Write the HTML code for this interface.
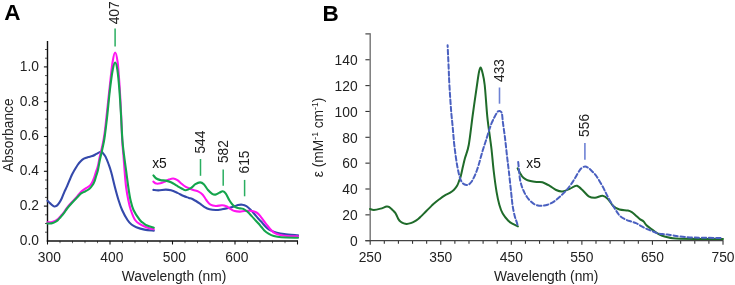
<!DOCTYPE html>
<html><head><meta charset="utf-8"><style>
html,body{margin:0;padding:0;background:#fff;}
body{width:735px;height:285px;overflow:hidden;}
svg{display:block;filter:blur(0.3px);font-family:"Liberation Sans", sans-serif;}
</style></head><body>
<svg width="735" height="285" viewBox="0 0 735 285">
<rect width="735" height="285" fill="#fff"/>
<text x="4.2" y="20.4" font-size="22.5" font-weight="bold" fill="#000">A</text>
<text x="322.5" y="20.8" font-size="22.5" font-weight="bold" fill="#000">B</text>
<line x1="45.00" x2="47.5" y1="232.20" y2="232.20" stroke="#555" stroke-width="1"/>
<line x1="45.00" x2="47.5" y1="223.50" y2="223.50" stroke="#555" stroke-width="1"/>
<line x1="45.00" x2="47.5" y1="214.80" y2="214.80" stroke="#555" stroke-width="1"/>
<line x1="43.90" x2="47.5" y1="206.10" y2="206.10" stroke="#111" stroke-width="1.1"/>
<line x1="45.00" x2="47.5" y1="197.40" y2="197.40" stroke="#555" stroke-width="1"/>
<line x1="45.00" x2="47.5" y1="188.70" y2="188.70" stroke="#555" stroke-width="1"/>
<line x1="45.00" x2="47.5" y1="180.00" y2="180.00" stroke="#555" stroke-width="1"/>
<line x1="43.90" x2="47.5" y1="171.30" y2="171.30" stroke="#111" stroke-width="1.1"/>
<line x1="45.00" x2="47.5" y1="162.60" y2="162.60" stroke="#555" stroke-width="1"/>
<line x1="45.00" x2="47.5" y1="153.90" y2="153.90" stroke="#555" stroke-width="1"/>
<line x1="45.00" x2="47.5" y1="145.20" y2="145.20" stroke="#555" stroke-width="1"/>
<line x1="43.90" x2="47.5" y1="136.50" y2="136.50" stroke="#111" stroke-width="1.1"/>
<line x1="45.00" x2="47.5" y1="127.80" y2="127.80" stroke="#555" stroke-width="1"/>
<line x1="45.00" x2="47.5" y1="119.10" y2="119.10" stroke="#555" stroke-width="1"/>
<line x1="45.00" x2="47.5" y1="110.40" y2="110.40" stroke="#555" stroke-width="1"/>
<line x1="43.90" x2="47.5" y1="101.70" y2="101.70" stroke="#111" stroke-width="1.1"/>
<line x1="45.00" x2="47.5" y1="93.00" y2="93.00" stroke="#555" stroke-width="1"/>
<line x1="45.00" x2="47.5" y1="84.30" y2="84.30" stroke="#555" stroke-width="1"/>
<line x1="45.00" x2="47.5" y1="75.60" y2="75.60" stroke="#555" stroke-width="1"/>
<line x1="43.90" x2="47.5" y1="66.90" y2="66.90" stroke="#111" stroke-width="1.1"/>
<line x1="45.00" x2="47.5" y1="58.20" y2="58.20" stroke="#555" stroke-width="1"/>
<line x1="45.00" x2="47.5" y1="49.50" y2="49.50" stroke="#555" stroke-width="1"/>
<line x1="47.50" x2="47.50" y1="240.9" y2="244.50" stroke="#111" stroke-width="1.1"/>
<line x1="60.00" x2="60.00" y1="240.9" y2="243.20" stroke="#555" stroke-width="0.9"/>
<line x1="72.50" x2="72.50" y1="240.9" y2="243.20" stroke="#555" stroke-width="0.9"/>
<line x1="85.00" x2="85.00" y1="240.9" y2="243.20" stroke="#555" stroke-width="0.9"/>
<line x1="97.50" x2="97.50" y1="240.9" y2="243.20" stroke="#555" stroke-width="0.9"/>
<line x1="110.00" x2="110.00" y1="240.9" y2="244.50" stroke="#111" stroke-width="1.1"/>
<line x1="122.50" x2="122.50" y1="240.9" y2="243.20" stroke="#555" stroke-width="0.9"/>
<line x1="135.00" x2="135.00" y1="240.9" y2="243.20" stroke="#555" stroke-width="0.9"/>
<line x1="147.50" x2="147.50" y1="240.9" y2="243.20" stroke="#555" stroke-width="0.9"/>
<line x1="160.00" x2="160.00" y1="240.9" y2="243.20" stroke="#555" stroke-width="0.9"/>
<line x1="172.50" x2="172.50" y1="240.9" y2="244.50" stroke="#111" stroke-width="1.1"/>
<line x1="185.00" x2="185.00" y1="240.9" y2="243.20" stroke="#555" stroke-width="0.9"/>
<line x1="197.50" x2="197.50" y1="240.9" y2="243.20" stroke="#555" stroke-width="0.9"/>
<line x1="210.00" x2="210.00" y1="240.9" y2="243.20" stroke="#555" stroke-width="0.9"/>
<line x1="222.50" x2="222.50" y1="240.9" y2="243.20" stroke="#555" stroke-width="0.9"/>
<line x1="235.00" x2="235.00" y1="240.9" y2="244.50" stroke="#111" stroke-width="1.1"/>
<line x1="247.50" x2="247.50" y1="240.9" y2="243.20" stroke="#555" stroke-width="0.9"/>
<line x1="260.00" x2="260.00" y1="240.9" y2="243.20" stroke="#555" stroke-width="0.9"/>
<line x1="272.50" x2="272.50" y1="240.9" y2="243.20" stroke="#555" stroke-width="0.9"/>
<line x1="285.00" x2="285.00" y1="240.9" y2="243.20" stroke="#555" stroke-width="0.9"/>
<line x1="297.50" x2="297.50" y1="240.9" y2="244.50" stroke="#111" stroke-width="1.1"/>
<line x1="47.5" x2="47.5" y1="41" y2="241.6" stroke="#111" stroke-width="1.4"/>
<line x1="46.8" x2="298" y1="240.9" y2="240.9" stroke="#111" stroke-width="1.5"/>
<text x="39" y="244.80" text-anchor="end" font-size="13.8" fill="#222">0.0</text>
<text x="39" y="210.00" text-anchor="end" font-size="13.8" fill="#222">0.2</text>
<text x="39" y="175.20" text-anchor="end" font-size="13.8" fill="#222">0.4</text>
<text x="39" y="140.40" text-anchor="end" font-size="13.8" fill="#222">0.6</text>
<text x="39" y="105.60" text-anchor="end" font-size="13.8" fill="#222">0.8</text>
<text x="39" y="70.80" text-anchor="end" font-size="13.8" fill="#222">1.0</text>
<text x="49.30" y="261.5" text-anchor="middle" font-size="13.8" fill="#222">300</text>
<text x="111.80" y="261.5" text-anchor="middle" font-size="13.8" fill="#222">400</text>
<text x="174.30" y="261.5" text-anchor="middle" font-size="13.8" fill="#222">500</text>
<text x="236.80" y="261.5" text-anchor="middle" font-size="13.8" fill="#222">600</text>
<text x="174" y="281" text-anchor="middle" font-size="13.8" fill="#222">Wavelength (nm)</text>
<text transform="translate(12.6,135.2) rotate(-90)" text-anchor="middle" font-size="13.8" fill="#222">Absorbance</text>
<path d="M47.50,200.80 C47.95,201.23 49.13,202.47 50.20,203.40 C51.27,204.33 52.85,205.98 53.90,206.40 C54.95,206.82 55.62,206.48 56.50,205.90 C57.38,205.32 58.32,204.18 59.20,202.90 C60.08,201.62 60.93,200.05 61.80,198.20 C62.67,196.35 63.52,193.82 64.40,191.80 C65.28,189.78 65.87,188.90 67.10,186.10 C68.33,183.30 70.58,177.63 71.80,175.00 C73.02,172.37 73.43,171.97 74.40,170.30 C75.37,168.63 76.55,166.50 77.60,165.00 C78.65,163.50 79.65,162.35 80.70,161.30 C81.75,160.25 82.67,159.40 83.90,158.70 C85.13,158.00 86.70,157.53 88.10,157.10 C89.50,156.67 90.90,156.63 92.30,156.10 C93.70,155.57 95.10,154.62 96.50,153.90 C97.90,153.18 99.65,151.97 100.70,151.80 C101.75,151.63 102.00,152.10 102.80,152.90 C103.60,153.70 104.48,154.58 105.50,156.60 C106.52,158.62 107.93,162.35 108.90,165.00 C109.87,167.65 110.28,168.75 111.30,172.50 C112.32,176.25 113.80,182.92 115.00,187.50 C116.20,192.08 117.32,196.25 118.50,200.00 C119.68,203.75 120.60,206.67 122.10,210.00 C123.60,213.33 125.93,217.58 127.50,220.00 C129.07,222.42 130.03,223.30 131.50,224.50 C132.97,225.70 134.13,226.35 136.30,227.20 C138.47,228.05 141.58,229.02 144.50,229.60 C147.42,230.18 152.25,230.52 153.80,230.70" fill="none" stroke="#3449ab" stroke-width="2.10" stroke-linejoin="round" stroke-linecap="round" />
<path d="M47.50,222.20 C48.13,222.20 50.15,222.35 51.30,222.20 C52.45,222.05 53.35,221.77 54.40,221.30 C55.45,220.83 56.55,220.27 57.60,219.40 C58.65,218.53 59.65,217.27 60.70,216.10 C61.75,214.93 62.83,213.82 63.90,212.40 C64.97,210.98 65.70,209.38 67.10,207.60 C68.50,205.82 70.55,203.63 72.30,201.70 C74.05,199.77 76.13,197.65 77.60,196.00 C79.07,194.35 79.82,193.02 81.10,191.80 C82.38,190.58 83.90,189.65 85.30,188.70 C86.70,187.75 88.37,187.15 89.50,186.10 C90.63,185.05 91.32,183.82 92.10,182.40 C92.88,180.98 93.58,179.27 94.20,177.60 C94.82,175.93 95.18,174.33 95.80,172.40 C96.42,170.47 97.25,168.57 97.90,166.00 C98.55,163.43 98.97,160.33 99.70,157.00 C100.43,153.67 101.50,149.83 102.30,146.00 C103.10,142.17 103.72,139.67 104.50,134.00 C105.28,128.33 106.10,120.17 107.00,112.00 C107.90,103.83 108.97,93.33 109.90,85.00 C110.83,76.67 111.73,67.42 112.60,62.00 C113.47,56.58 114.27,52.50 115.10,52.50 C115.93,52.50 116.87,56.58 117.60,62.00 C118.33,67.42 118.93,76.67 119.50,85.00 C120.07,93.33 120.55,102.83 121.00,112.00 C121.45,121.17 121.80,132.83 122.20,140.00 C122.60,147.17 122.98,149.67 123.40,155.00 C123.82,160.33 124.25,166.67 124.70,172.00 C125.15,177.33 125.50,182.33 126.10,187.00 C126.70,191.67 127.52,196.17 128.30,200.00 C129.08,203.83 129.67,206.67 130.80,210.00 C131.93,213.33 133.43,217.55 135.10,220.00 C136.77,222.45 138.82,223.45 140.80,224.70 C142.78,225.95 144.83,226.73 147.00,227.50 C149.17,228.27 152.67,229.00 153.80,229.30" fill="none" stroke="#ff14f0" stroke-width="2.10" stroke-linejoin="round" stroke-linecap="round" />
<path d="M47.50,223.40 C48.13,223.40 50.15,223.57 51.30,223.40 C52.45,223.23 53.35,222.90 54.40,222.40 C55.45,221.90 56.55,221.30 57.60,220.40 C58.65,219.50 59.65,218.20 60.70,217.00 C61.75,215.80 62.83,214.62 63.90,213.20 C64.97,211.78 65.70,210.28 67.10,208.50 C68.50,206.72 70.55,204.42 72.30,202.50 C74.05,200.58 76.13,198.52 77.60,197.00 C79.07,195.48 79.82,194.35 81.10,193.40 C82.38,192.45 83.90,192.08 85.30,191.30 C86.70,190.52 88.28,189.75 89.50,188.70 C90.72,187.65 91.73,186.32 92.60,185.00 C93.47,183.68 94.08,182.38 94.70,180.80 C95.32,179.22 95.77,177.25 96.30,175.50 C96.83,173.75 97.33,172.75 97.90,170.30 C98.47,167.85 98.97,164.32 99.70,160.80 C100.43,157.28 101.50,153.00 102.30,149.20 C103.10,145.40 103.72,143.20 104.50,138.00 C105.28,132.80 106.10,126.00 107.00,118.00 C107.90,110.00 108.95,98.00 109.90,90.00 C110.85,82.00 111.83,74.58 112.70,70.00 C113.57,65.42 114.32,62.50 115.10,62.50 C115.88,62.50 116.68,65.42 117.40,70.00 C118.12,74.58 118.80,82.50 119.40,90.00 C120.00,97.50 120.50,106.67 121.00,115.00 C121.50,123.33 121.90,133.33 122.40,140.00 C122.90,146.67 123.35,149.67 124.00,155.00 C124.65,160.33 125.58,166.67 126.30,172.00 C127.02,177.33 127.60,182.33 128.30,187.00 C129.00,191.67 129.63,196.17 130.50,200.00 C131.37,203.83 131.95,206.67 133.50,210.00 C135.05,213.33 138.05,217.73 139.80,220.00 C141.55,222.27 142.77,222.68 144.00,223.60 C145.23,224.52 145.57,224.82 147.20,225.50 C148.83,226.18 152.70,227.33 153.80,227.70" fill="none" stroke="#14a54c" stroke-width="2.10" stroke-linejoin="round" stroke-linecap="round" />
<path d="M153.40,189.90 C154.23,189.98 156.33,190.45 158.40,190.40 C160.47,190.35 163.70,189.62 165.80,189.60 C167.90,189.58 169.07,189.75 171.00,190.30 C172.93,190.85 175.28,191.95 177.40,192.90 C179.52,193.85 181.78,195.17 183.70,196.00 C185.62,196.83 187.30,197.32 188.90,197.90 C190.50,198.48 191.45,198.53 193.30,199.50 C195.15,200.47 198.18,202.48 200.00,203.70 C201.82,204.92 202.62,205.87 204.20,206.80 C205.78,207.73 207.57,208.77 209.50,209.30 C211.43,209.83 213.70,210.00 215.80,210.00 C217.90,210.00 220.00,209.62 222.10,209.30 C224.20,208.98 226.30,208.60 228.40,208.10 C230.50,207.60 233.10,206.82 234.70,206.30 C236.30,205.78 236.75,205.27 238.00,205.00 C239.25,204.73 240.80,204.52 242.20,204.70 C243.60,204.88 245.00,205.27 246.40,206.10 C247.80,206.93 249.20,208.30 250.60,209.70 C252.00,211.10 253.57,213.07 254.80,214.50 C256.03,215.93 256.93,217.13 258.00,218.30 C259.07,219.47 260.15,220.35 261.20,221.50 C262.25,222.65 263.25,224.07 264.30,225.20 C265.35,226.33 266.27,227.35 267.50,228.30 C268.73,229.25 270.13,230.15 271.70,230.90 C273.27,231.65 274.80,232.27 276.90,232.80 C279.00,233.33 280.78,233.67 284.30,234.10 C287.82,234.53 295.72,235.18 298.00,235.40" fill="none" stroke="#3449ab" stroke-width="2.10" stroke-linejoin="round" stroke-linecap="round" />
<path d="M153.40,181.70 C153.88,182.02 155.12,183.33 156.30,183.60 C157.48,183.87 159.10,183.62 160.50,183.30 C161.90,182.98 163.30,182.32 164.70,181.70 C166.10,181.08 167.48,180.13 168.90,179.60 C170.32,179.07 171.78,178.42 173.20,178.50 C174.62,178.58 176.00,179.22 177.40,180.10 C178.80,180.98 180.20,182.67 181.60,183.80 C183.00,184.93 184.48,186.12 185.80,186.90 C187.12,187.68 188.25,187.98 189.50,188.50 C190.75,189.02 191.80,189.48 193.30,190.00 C194.80,190.52 196.93,190.82 198.50,191.60 C200.07,192.38 201.40,193.30 202.70,194.70 C204.00,196.10 205.00,198.33 206.30,200.00 C207.60,201.67 208.92,203.70 210.50,204.70 C212.08,205.70 213.87,205.90 215.80,206.00 C217.73,206.10 220.35,205.25 222.10,205.30 C223.85,205.35 224.90,205.70 226.30,206.30 C227.70,206.90 229.10,208.10 230.50,208.90 C231.90,209.70 233.12,210.65 234.70,211.10 C236.28,211.55 238.40,211.62 240.00,211.60 C241.60,211.58 242.70,211.13 244.30,211.00 C245.90,210.87 247.85,210.67 249.60,210.80 C251.35,210.93 253.40,211.33 254.80,211.80 C256.20,212.27 256.93,212.68 258.00,213.60 C259.07,214.52 260.15,215.98 261.20,217.30 C262.25,218.62 263.25,220.10 264.30,221.50 C265.35,222.90 266.45,224.38 267.50,225.70 C268.55,227.02 269.38,228.17 270.60,229.40 C271.82,230.63 273.03,232.13 274.80,233.10 C276.57,234.07 278.73,234.68 281.20,235.20 C283.67,235.72 286.80,236.00 289.60,236.20 C292.40,236.40 296.60,236.37 298.00,236.40" fill="none" stroke="#ff14f0" stroke-width="2.10" stroke-linejoin="round" stroke-linecap="round" />
<path d="M153.40,175.40 C153.88,175.92 155.12,177.72 156.30,178.50 C157.48,179.28 158.92,179.75 160.50,180.10 C162.08,180.45 164.05,180.25 165.80,180.60 C167.55,180.95 169.25,181.40 171.00,182.20 C172.75,183.00 174.53,184.35 176.30,185.40 C178.07,186.45 180.02,187.68 181.60,188.50 C183.18,189.32 184.20,190.40 185.80,190.30 C187.40,190.20 189.60,188.92 191.20,187.90 C192.80,186.88 193.92,185.12 195.40,184.20 C196.88,183.28 198.70,182.40 200.10,182.40 C201.50,182.40 202.48,182.93 203.80,184.20 C205.12,185.47 206.60,188.40 208.00,190.00 C209.40,191.60 210.97,193.03 212.20,193.80 C213.43,194.57 214.17,194.80 215.40,194.60 C216.63,194.40 218.38,193.15 219.60,192.60 C220.82,192.05 221.67,191.13 222.70,191.30 C223.73,191.47 224.67,192.07 225.80,193.60 C226.93,195.13 228.37,198.65 229.50,200.50 C230.63,202.35 231.55,203.55 232.60,204.70 C233.65,205.85 234.57,206.78 235.80,207.40 C237.03,208.02 238.75,208.15 240.00,208.40 C241.25,208.65 242.05,208.33 243.30,208.90 C244.55,209.47 246.10,210.60 247.50,211.80 C248.90,213.00 250.30,214.60 251.70,216.10 C253.10,217.60 254.77,219.57 255.90,220.80 C257.03,222.03 257.62,222.52 258.50,223.50 C259.38,224.48 260.23,225.55 261.20,226.70 C262.17,227.85 263.08,229.25 264.30,230.40 C265.52,231.55 266.92,232.67 268.50,233.60 C270.08,234.53 271.68,235.38 273.80,236.00 C275.92,236.62 277.17,237.00 281.20,237.30 C285.23,237.60 295.20,237.72 298.00,237.80" fill="none" stroke="#14a54c" stroke-width="2.10" stroke-linejoin="round" stroke-linecap="round" />
<line x1="115.10" x2="115.10" y1="28.50" y2="46.40" stroke="#2aae60" stroke-width="1.5"/>
<line x1="200.50" x2="200.50" y1="159.00" y2="175.80" stroke="#2aae60" stroke-width="1.5"/>
<line x1="223.20" x2="223.20" y1="169.40" y2="185.80" stroke="#2aae60" stroke-width="1.5"/>
<line x1="244.60" x2="244.60" y1="179.90" y2="196.30" stroke="#2aae60" stroke-width="1.5"/>
<text transform="translate(119.30,12.80) rotate(-90)" text-anchor="middle" font-size="13.8" fill="#222">407</text>
<text transform="translate(205.40,142.10) rotate(-90)" text-anchor="middle" font-size="13.8" fill="#222">544</text>
<text transform="translate(228.20,151.60) rotate(-90)" text-anchor="middle" font-size="13.8" fill="#222">582</text>
<text transform="translate(249.10,162.00) rotate(-90)" text-anchor="middle" font-size="13.8" fill="#222">615</text>
<text x="152.2" y="167.9" font-size="13.8" fill="#111">x5</text>
<line x1="365.4" x2="370.2" y1="240.70" y2="240.70" stroke="#333" stroke-width="1.1"/>
<line x1="365.4" x2="370.2" y1="214.85" y2="214.85" stroke="#333" stroke-width="1.1"/>
<line x1="365.4" x2="370.2" y1="189.00" y2="189.00" stroke="#333" stroke-width="1.1"/>
<line x1="365.4" x2="370.2" y1="163.15" y2="163.15" stroke="#333" stroke-width="1.1"/>
<line x1="365.4" x2="370.2" y1="137.30" y2="137.30" stroke="#333" stroke-width="1.1"/>
<line x1="365.4" x2="370.2" y1="111.45" y2="111.45" stroke="#333" stroke-width="1.1"/>
<line x1="365.4" x2="370.2" y1="85.60" y2="85.60" stroke="#333" stroke-width="1.1"/>
<line x1="365.4" x2="370.2" y1="59.75" y2="59.75" stroke="#333" stroke-width="1.1"/>
<line x1="365.4" x2="370.2" y1="33.90" y2="33.90" stroke="#333" stroke-width="1.1"/>
<line x1="370.20" x2="370.20" y1="240.6" y2="244.70" stroke="#333" stroke-width="1.1"/>
<line x1="384.31" x2="384.31" y1="240.6" y2="243.80" stroke="#333" stroke-width="1.1"/>
<line x1="398.42" x2="398.42" y1="240.6" y2="243.80" stroke="#333" stroke-width="1.1"/>
<line x1="412.54" x2="412.54" y1="240.6" y2="243.80" stroke="#333" stroke-width="1.1"/>
<line x1="426.65" x2="426.65" y1="240.6" y2="243.80" stroke="#333" stroke-width="1.1"/>
<line x1="440.76" x2="440.76" y1="240.6" y2="244.70" stroke="#333" stroke-width="1.1"/>
<line x1="454.87" x2="454.87" y1="240.6" y2="243.80" stroke="#333" stroke-width="1.1"/>
<line x1="468.98" x2="468.98" y1="240.6" y2="243.80" stroke="#333" stroke-width="1.1"/>
<line x1="483.10" x2="483.10" y1="240.6" y2="243.80" stroke="#333" stroke-width="1.1"/>
<line x1="497.21" x2="497.21" y1="240.6" y2="243.80" stroke="#333" stroke-width="1.1"/>
<line x1="511.32" x2="511.32" y1="240.6" y2="244.70" stroke="#333" stroke-width="1.1"/>
<line x1="525.43" x2="525.43" y1="240.6" y2="243.80" stroke="#333" stroke-width="1.1"/>
<line x1="539.54" x2="539.54" y1="240.6" y2="243.80" stroke="#333" stroke-width="1.1"/>
<line x1="553.66" x2="553.66" y1="240.6" y2="243.80" stroke="#333" stroke-width="1.1"/>
<line x1="567.77" x2="567.77" y1="240.6" y2="243.80" stroke="#333" stroke-width="1.1"/>
<line x1="581.88" x2="581.88" y1="240.6" y2="244.70" stroke="#333" stroke-width="1.1"/>
<line x1="595.99" x2="595.99" y1="240.6" y2="243.80" stroke="#333" stroke-width="1.1"/>
<line x1="610.10" x2="610.10" y1="240.6" y2="243.80" stroke="#333" stroke-width="1.1"/>
<line x1="624.22" x2="624.22" y1="240.6" y2="243.80" stroke="#333" stroke-width="1.1"/>
<line x1="638.33" x2="638.33" y1="240.6" y2="243.80" stroke="#333" stroke-width="1.1"/>
<line x1="652.44" x2="652.44" y1="240.6" y2="244.70" stroke="#333" stroke-width="1.1"/>
<line x1="666.55" x2="666.55" y1="240.6" y2="243.80" stroke="#333" stroke-width="1.1"/>
<line x1="680.66" x2="680.66" y1="240.6" y2="243.80" stroke="#333" stroke-width="1.1"/>
<line x1="694.78" x2="694.78" y1="240.6" y2="243.80" stroke="#333" stroke-width="1.1"/>
<line x1="708.89" x2="708.89" y1="240.6" y2="243.80" stroke="#333" stroke-width="1.1"/>
<line x1="723.00" x2="723.00" y1="240.6" y2="244.70" stroke="#333" stroke-width="1.1"/>
<line x1="370.2" x2="370.2" y1="33.3" y2="241" stroke="#7c7c7c" stroke-width="1.5"/>
<line x1="365.4" x2="723.4" y1="240.6" y2="240.6" stroke="#444" stroke-width="1.1"/>
<text x="357.6" y="245.90" text-anchor="end" font-size="13.8" fill="#222">0</text>
<text x="357.6" y="220.05" text-anchor="end" font-size="13.8" fill="#222">20</text>
<text x="357.6" y="194.20" text-anchor="end" font-size="13.8" fill="#222">40</text>
<text x="357.6" y="168.35" text-anchor="end" font-size="13.8" fill="#222">60</text>
<text x="357.6" y="142.50" text-anchor="end" font-size="13.8" fill="#222">80</text>
<text x="357.6" y="116.65" text-anchor="end" font-size="13.8" fill="#222">100</text>
<text x="357.6" y="90.80" text-anchor="end" font-size="13.8" fill="#222">120</text>
<text x="357.6" y="64.95" text-anchor="end" font-size="13.8" fill="#222">140</text>
<text x="370.20" y="261.5" text-anchor="middle" font-size="13.8" fill="#222">250</text>
<text x="440.76" y="261.5" text-anchor="middle" font-size="13.8" fill="#222">350</text>
<text x="511.32" y="261.5" text-anchor="middle" font-size="13.8" fill="#222">450</text>
<text x="581.88" y="261.5" text-anchor="middle" font-size="13.8" fill="#222">550</text>
<text x="652.44" y="261.5" text-anchor="middle" font-size="13.8" fill="#222">650</text>
<text x="723.00" y="261.5" text-anchor="middle" font-size="13.8" fill="#222">750</text>
<text x="546.2" y="281" text-anchor="middle" font-size="13.8" fill="#222">Wavelength (nm)</text>
<text transform="translate(323,137.5) rotate(-90)" text-anchor="middle" font-size="13.8" fill="#222">ε (mM<tspan font-size="8.5" dy="-5">-1</tspan><tspan dy="5"> cm</tspan><tspan font-size="8.5" dy="-5">-1</tspan><tspan dy="5">)</tspan></text>
<path d="M370.00,209.00 C370.65,209.15 372.13,209.97 373.90,209.90 C375.67,209.83 378.47,209.15 380.60,208.60 C382.73,208.05 385.20,206.82 386.70,206.60 C388.20,206.38 388.55,206.67 389.60,207.30 C390.65,207.93 392.05,209.47 393.00,210.40 C393.95,211.33 394.65,211.97 395.30,212.90 C395.95,213.83 396.38,214.97 396.90,216.00 C397.42,217.03 397.77,218.13 398.40,219.10 C399.03,220.07 399.80,221.08 400.70,221.80 C401.60,222.52 402.77,223.05 403.80,223.40 C404.83,223.75 405.75,223.95 406.90,223.90 C408.05,223.85 409.42,223.52 410.70,223.10 C411.98,222.68 413.30,222.13 414.60,221.40 C415.90,220.67 417.43,219.53 418.50,218.70 C419.57,217.87 419.73,217.65 421.00,216.40 C422.27,215.15 424.32,213.00 426.10,211.20 C427.88,209.40 430.38,206.88 431.70,205.60 C433.02,204.32 432.73,204.55 434.00,203.50 C435.27,202.45 437.55,200.62 439.30,199.30 C441.05,197.98 442.75,196.67 444.50,195.60 C446.25,194.53 448.22,193.87 449.80,192.90 C451.38,191.93 452.77,191.02 454.00,189.80 C455.23,188.58 456.32,187.18 457.20,185.60 C458.08,184.02 458.70,181.88 459.30,180.30 C459.90,178.72 460.18,178.43 460.80,176.10 C461.42,173.77 462.30,169.32 463.00,166.30 C463.70,163.28 464.03,161.60 465.00,158.00 C465.97,154.40 467.50,151.95 468.80,144.70 C470.10,137.45 471.43,124.45 472.80,114.50 C474.17,104.55 475.97,92.08 477.00,85.00 C478.03,77.92 478.40,74.92 479.00,72.00 C479.60,69.08 480.05,67.50 480.60,67.50 C481.15,67.50 481.62,69.08 482.30,72.00 C482.98,74.92 483.87,77.57 484.70,85.00 C485.53,92.43 486.42,107.83 487.30,116.60 C488.18,125.37 489.28,132.03 490.00,137.60 C490.72,143.17 490.98,144.43 491.60,150.00 C492.22,155.57 492.87,163.98 493.70,171.00 C494.53,178.02 495.65,186.43 496.60,192.10 C497.55,197.77 498.38,201.42 499.40,205.00 C500.42,208.58 501.22,210.97 502.70,213.60 C504.18,216.23 506.62,219.08 508.30,220.80 C509.98,222.52 511.20,222.97 512.80,223.90 C514.40,224.83 517.05,225.98 517.90,226.40" fill="none" stroke="#1f6b2a" stroke-width="2.00" stroke-linejoin="round" stroke-linecap="round" />
<path d="M447.60,45.30 C447.77,48.85 448.30,59.98 448.60,66.60 C448.90,73.22 448.98,77.72 449.40,85.00 C449.82,92.28 450.55,103.28 451.10,110.30 C451.65,117.32 452.13,121.02 452.70,127.10 C453.27,133.18 453.68,140.00 454.50,146.80 C455.32,153.60 456.48,162.20 457.60,167.90 C458.72,173.60 459.73,178.17 461.20,181.00 C462.67,183.83 464.72,184.73 466.40,184.90 C468.08,185.07 469.53,184.48 471.30,182.00 C473.07,179.52 475.10,175.25 477.00,170.00 C478.90,164.75 481.23,155.33 482.70,150.50 C484.17,145.67 484.72,144.42 485.80,141.00 C486.88,137.58 488.20,133.05 489.20,130.00 C490.20,126.95 490.93,124.83 491.80,122.70 C492.67,120.57 493.60,118.78 494.40,117.20 C495.20,115.62 496.00,114.17 496.60,113.20 C497.20,112.23 497.53,111.78 498.00,111.40 C498.47,111.02 498.93,110.87 499.40,110.90 C499.87,110.93 500.37,111.08 500.80,111.60 C501.23,112.12 501.63,112.07 502.00,114.00 C502.37,115.93 502.50,119.22 503.00,123.20 C503.50,127.18 504.35,132.60 505.00,137.90 C505.65,143.20 506.27,149.48 506.90,155.00 C507.53,160.52 508.10,164.82 508.80,171.00 C509.50,177.18 510.47,186.35 511.10,192.10 C511.73,197.85 512.00,201.52 512.60,205.50 C513.20,209.48 514.00,213.18 514.70,216.00 C515.40,218.82 516.27,220.63 516.80,222.40 C517.33,224.17 517.72,225.90 517.90,226.60" fill="none" stroke="#4a60c0" stroke-width="2.00" stroke-linejoin="round" stroke-linecap="round" stroke-dasharray="4.5 2.6" stroke-dashoffset="2.45" stroke-linecap="butt"/>
<path d="M517.60,168.40 C518.00,169.17 519.25,171.68 520.00,173.00 C520.75,174.32 521.27,175.33 522.10,176.30 C522.93,177.27 523.95,178.10 525.00,178.80 C526.05,179.50 527.07,180.03 528.40,180.50 C529.73,180.97 531.57,181.35 533.00,181.60 C534.43,181.85 535.43,181.90 537.00,182.00 C538.57,182.10 540.28,181.57 542.40,182.20 C544.52,182.83 547.42,184.50 549.70,185.80 C551.98,187.10 553.98,189.05 556.10,190.00 C558.22,190.95 560.13,191.68 562.40,191.50 C564.67,191.32 567.77,189.72 569.70,188.90 C571.63,188.08 572.77,187.12 574.00,186.60 C575.23,186.08 575.70,185.23 577.10,185.80 C578.50,186.37 580.47,188.25 582.40,190.00 C584.33,191.75 586.60,195.00 588.70,196.30 C590.80,197.60 592.68,197.88 595.00,197.80 C597.32,197.72 600.45,195.60 602.60,195.80 C604.75,196.00 606.13,197.32 607.90,199.00 C609.67,200.68 611.27,204.15 613.20,205.90 C615.13,207.65 617.05,208.73 619.50,209.50 C621.95,210.27 625.85,210.07 627.90,210.50 C629.95,210.93 630.45,211.23 631.80,212.10 C633.15,212.97 634.60,214.48 636.00,215.70 C637.40,216.92 638.97,218.48 640.20,219.40 C641.43,220.32 642.35,220.23 643.40,221.20 C644.45,222.17 645.10,223.83 646.50,225.20 C647.90,226.57 650.05,228.08 651.80,229.40 C653.55,230.72 655.25,232.05 657.00,233.10 C658.75,234.15 660.53,235.00 662.30,235.70 C664.07,236.40 665.85,236.87 667.60,237.30 C669.35,237.73 670.73,238.07 672.80,238.30 C674.87,238.53 675.47,238.58 680.00,238.70 C684.53,238.82 692.83,238.95 700.00,239.00 C707.17,239.05 719.17,239.00 723.00,239.00" fill="none" stroke="#1f6b2a" stroke-width="2.00" stroke-linejoin="round" stroke-linecap="round" />
<path d="M518.20,162.00 C518.33,163.33 518.70,167.08 519.00,170.00 C519.30,172.92 519.50,176.67 520.00,179.50 C520.50,182.33 521.30,184.90 522.00,187.00 C522.70,189.10 523.37,190.43 524.20,192.10 C525.03,193.77 525.95,195.48 527.00,197.00 C528.05,198.52 529.17,199.95 530.50,201.20 C531.83,202.45 533.20,203.73 535.00,204.50 C536.80,205.27 539.20,205.77 541.30,205.80 C543.40,205.83 545.50,205.40 547.60,204.70 C549.70,204.00 551.78,203.00 553.90,201.60 C556.02,200.20 558.18,198.23 560.30,196.30 C562.42,194.37 564.50,192.45 566.60,190.00 C568.70,187.55 570.80,184.77 572.90,181.60 C575.00,178.43 577.68,173.30 579.20,171.00 C580.72,168.70 581.02,168.55 582.00,167.80 C582.98,167.05 584.02,166.47 585.10,166.50 C586.18,166.53 587.38,167.25 588.50,168.00 C589.62,168.75 590.47,169.63 591.80,171.00 C593.13,172.37 594.67,173.57 596.50,176.20 C598.33,178.83 600.97,183.47 602.80,186.80 C604.63,190.13 605.88,193.17 607.50,196.20 C609.12,199.23 610.85,202.27 612.50,205.00 C614.15,207.73 616.10,210.72 617.40,212.60 C618.70,214.48 618.95,215.15 620.30,216.30 C621.65,217.45 623.72,218.63 625.50,219.50 C627.28,220.37 629.25,220.90 631.00,221.50 C632.75,222.10 634.28,222.32 636.00,223.10 C637.72,223.88 639.55,225.25 641.30,226.20 C643.05,227.15 644.75,228.02 646.50,228.80 C648.25,229.58 650.05,230.18 651.80,230.90 C653.55,231.62 655.25,232.57 657.00,233.10 C658.75,233.63 660.53,233.87 662.30,234.10 C664.07,234.33 665.85,234.28 667.60,234.50 C669.35,234.72 670.73,235.07 672.80,235.40 C674.87,235.73 676.30,236.13 680.00,236.50 C683.70,236.87 687.83,237.35 695.00,237.60 C702.17,237.85 718.33,237.93 723.00,238.00" fill="none" stroke="#4a60c0" stroke-width="2.00" stroke-linejoin="round" stroke-linecap="round" stroke-dasharray="4.5 2.6" stroke-linecap="butt"/>
<line x1="499.50" x2="499.50" y1="87.50" y2="103.70" stroke="#6e82d4" stroke-width="1.6"/>
<line x1="584.90" x2="584.90" y1="143.00" y2="159.80" stroke="#6e82d4" stroke-width="1.6"/>
<text transform="translate(504.30,70.50) rotate(-90)" text-anchor="middle" font-size="13.8" fill="#222">433</text>
<text transform="translate(589.30,125.40) rotate(-90)" text-anchor="middle" font-size="13.8" fill="#222">556</text>
<text x="526.3" y="167.6" font-size="13.8" fill="#111">x5</text>
</svg>
</body></html>
